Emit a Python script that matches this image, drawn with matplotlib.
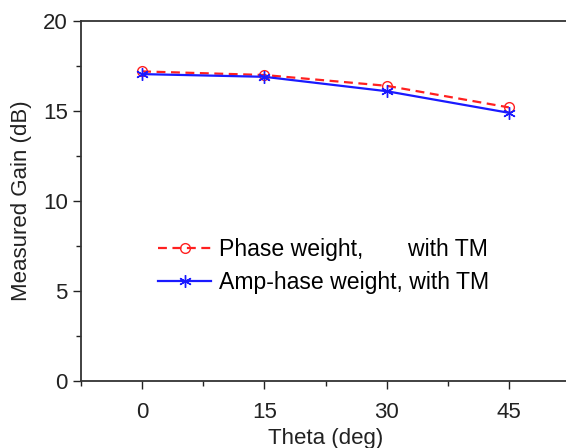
import matplotlib
matplotlib.use("Agg")
import matplotlib.pyplot as plt
from matplotlib.ticker import MultipleLocator

plt.rcParams['font.family'] = ['Liberation Sans', 'DejaVu Sans']

theta = [0, 15, 30, 45]
phase_gain = [17.2, 17.0, 16.4, 15.2]
amp_gain = [17.05, 16.9, 16.1, 14.9]
xticks = [0, 15, 30, 45]
yticks = [0, 5, 10, 15, 20]

W, H = 566, 448
fig = plt.figure(figsize=(W / 100, H / 100), dpi=100)
ax = fig.add_axes([81 / W, (H - 381) / H, (570 - 81) / W, (381 - 21) / H])

ax.plot(theta, phase_gain, color='#ff2020', ls=(0, (4, 2.5)), lw=1.6,
        marker='o', ms=7, mfc='none', mec='#ff2020', mew=1.0,
        label='Phase weight,       with TM')
ax.plot(theta, amp_gain, color='#1a1aff', ls='-', lw=1.6,
        marker=(6, 2, 0), ms=9, mec='#1a1aff', mew=1.0,
        label='Amp-hase weight, with TM')

ax.set_xlim(-7.5, 52.5)
ax.set_ylim(0, 20)
ax.set_xticks(xticks)
ax.set_yticks(yticks)
ax.xaxis.set_minor_locator(MultipleLocator(7.5))
ax.yaxis.set_minor_locator(MultipleLocator(2.5))
ax.tick_params(which='major', direction='out', length=6, width=1, labelsize=16, colors='#222222')
ax.tick_params(axis='x', which='major', pad=9)
ax.tick_params(which='minor', direction='out', length=3.5, width=1, colors='#222222')
ax.tick_params(top=False, right=False, which='both')
for s in ax.spines.values():
    s.set_color('#333333')
    s.set_linewidth(1.3)

ax.set_xlabel('Theta (deg)', fontsize=16, color='#222222', labelpad=4)
ax.set_ylabel('Measured Gain (dB)', fontsize=16, color='#222222', labelpad=8)

ax.legend(loc='center left', bbox_to_anchor=(0.139, 0.319), frameon=False,
          fontsize=16.6, handlelength=2.3, handletextpad=0.33, labelspacing=0.42,
          borderaxespad=0)

fig.savefig('out.png', dpi=100)
